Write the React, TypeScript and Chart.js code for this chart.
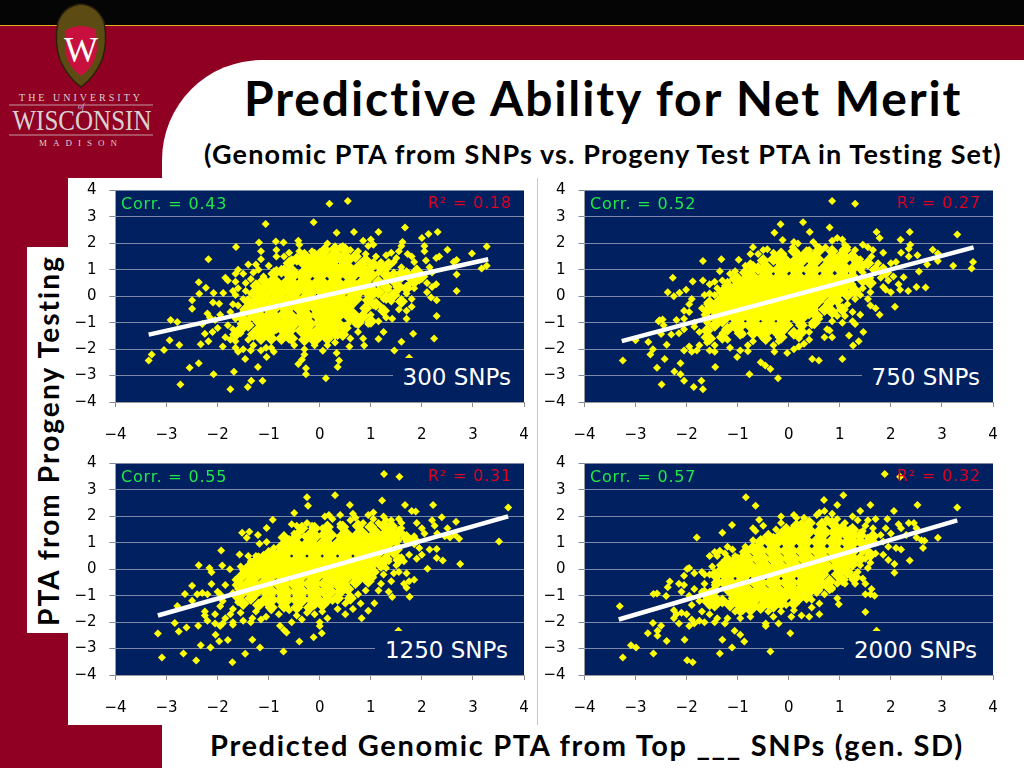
import React, { useEffect, useRef } from "react";
import { Chart, registerables } from "chart.js";

Chart.register(...registerables);

const axisTicks = [-4, -3, -2, -1, 0, 1, 2, 3, 4];

// dense middle of each cloud, drawn with bigger diamonds
const core300 = [
  [0, 1.45], [0.3, 1.5], [0.5, 1.4], [-0.25, 1.25], [-0.1, 1.1], [0.2, 1.15], [0.5, 1.1], [0.8, 1.05],
  [-0.55, 0.85], [-0.3, 0.8], [0, 0.85], [0.3, 0.8], [0.6, 0.8], [0.95, 0.8],
  [-0.9, 0.5], [-0.6, 0.5], [-0.3, 0.5], [0, 0.5], [0.3, 0.5], [0.6, 0.45], [0.85, 0.45],
  [-1.05, 0.2], [-0.8, 0.15], [-0.5, 0.2], [-0.2, 0.2], [0.1, 0.15], [0.4, 0.2], [0.7, 0.15], [1.0, 0.15],
  [-1.15, -0.1], [-0.85, -0.15], [-0.55, -0.1], [-0.25, -0.1], [0.05, -0.15], [0.35, -0.1], [0.65, -0.1],
  [-1.2, -0.4], [-0.95, -0.45], [-0.65, -0.4], [-0.35, -0.45], [-0.05, -0.4], [0.25, -0.45], [0.5, -0.4],
  [-1.25, -0.7], [-0.95, -0.75], [-0.65, -0.7], [-0.3, -0.75], [0, -0.7], [0.3, -0.75], [0.6, -0.7],
  [-1.1, -1.0], [-0.85, -1.05], [-0.55, -1.0], [-0.25, -1.05], [0.05, -1.0], [0.3, -1.05],
  [-1.0, -1.3], [-0.65, -1.3], [-0.3, -1.3], [0, -1.35], [0.2, -1.25], [-0.1, -1.55],
];
const mid300 = [
  [-0.6, 1.25], [-0.45, 1.4], [-0.3, 1.55], [-0.1, 1.55], [0.1, 1.75], [0.3, 1.8], [0.5, 1.75], [0.7, 1.5], [0.9, 1.35], [1.05, 1.2], [1.2, 1.1], [1.35, 1.2],
  [1.15, 0.55], [1.3, 0.8], [1.3, 0.35], [1.45, 0.65], [1.6, 0.85], [1.75, 0.75], [1.9, 0.95], [1.55, 0.35], [1.7, 0.3], [1.15, 0.15], [1.3, -0.05], [0.95, -0.15], [1.1, -0.3], [1.25, -0.55],
  [0.9, -0.45], [0.85, -0.75], [1.0, -0.95], [0.75, -1.0], [1.45, 0.05], [1.6, -0.2], [2.0, 0.75], [1.85, 0.55],
  [0.5, -1.2], [0.45, -1.45], [0.3, -1.4], [0.15, -1.6], [-0.3, -1.65], [-0.55, -1.6], [-0.75, -1.6], [-0.95, -1.6], [-1.15, -1.6], [-1.3, -1.45], [-1.2, -1.25],
  [-1.4, -1.1], [-1.5, -0.85], [-1.45, -0.5], [-1.4, -0.2], [-1.3, 0.1], [-1.25, 0.4], [-1.1, 0.6], [-0.9, 0.85], [-0.75, 0.95], [-1.55, -1.25], [-1.65, -1.45],
];
const points300 = [
  [0.19, 3.5], [0.55, 3.6], [-1.06, 2.73], [-0.12, 2.8], [0.33, 2.4], [0.67, 2.43], [1.15, 2.43], [1.67, 2.6], [2.13, 2.35], [2.31, 2.43],
  [2.0, 2.2], [3.27, 1.88], [2.98, 1.62], [2.5, 1.76], [2.34, 1.5], [2.28, 1.45], [2.68, 1.37], [2.62, 1.3], [3.27, 1.15], [3.17, 1.05], [2.68, 0.82], [2.68, 0.2],
  [2.29, -0.15], [2.29, -0.75], [2.24, -1.6], [1.83, -1.42], [1.6, -1.72], [1.46, -2.05], [1.75, -2.33],
  [-2.18, 1.4], [-1.64, 1.86], [-1.19, 2.03], [-0.86, 2.07], [-0.71, 2.03], [-0.42, 2.1], [-2.37, 0.53], [-2.23, 0.32], [-2.36, 0.09], [-2.08, 0.12], [-1.89, 0.12],
  [-2.5, -0.15], [-2.5, -0.47], [-2.09, -0.24], [-1.97, -0.28], [-2.92, -0.9], [-2.79, -0.97], [-2.94, -1.66], [-3.05, -2.03], [-2.75, -1.84], [-2.33, -1.82], [-2.25, -1.42], [-2.18, -1.7],
  [-3.29, -2.2], [-3.35, -2.43], [-2.55, -2.7], [-2.37, -2.53], [-2.08, -2.95], [-2.73, -3.34], [-1.75, -3.52], [-1.41, -3.43], [-1.34, -3.2], [-1.12, -3.2], [-1.68, -2.86], [-1.21, -2.68],
  [-1.46, -2.37], [-1.04, -2.3], [-0.42, -2.56], [-0.27, -2.72], [-0.27, -2.95], [0.12, -3.1], [0.35, -2.68], [0.38, -2.43], [0.33, -2.15], [0.06, -2.06], [0.58, -1.9], [0.87, -1.86],
  [0.95, 1.9], [0.85, 2.1], [1.0, 2.15], [1.05, 1.95], [0.75, 1.7], [0.9, 1.6], [1.1, 1.5], [1.2, 1.3], [1.15, 0.9], [1.3, 1.55], [1.4, 1.65], [1.45, 1.3], [1.5, 1.45], [1.55, 1.7], [1.6, 1.9], [1.62, 2.05],
  [1.72, 1.6], [1.8, 1.5], [1.85, 1.3], [1.3, 1.0], [1.45, 0.9], [1.6, 1.1], [1.7, 0.95], [1.85, 0.8], [1.9, 1.05], [2.05, 1.9], [2.05, 1.7], [2.08, 1.35], [2.15, 1.1], [2.2, 0.9], [1.95, 0.6], [2.1, 0.5],
  [2.2, 0.35], [2.28, 0.45], [2.1, 0.15], [2.18, -0.05], [1.3, 0.6], [1.45, 0.5], [1.6, 0.65], [1.75, 0.45], [1.85, 0.3], [1.35, 0.25], [1.5, 0.15], [1.7, 0.1], [1.8, -0.1], [1.25, -0.1], [1.4, -0.2], [1.55, -0.5],
  [1.7, -0.55], [1.8, -0.4], [1.7, -0.85], [1.2, -0.4], [1.05, -0.35], [1.0, -0.7], [1.15, -0.95], [0.95, -1.05], [1.3, -0.8], [1.42, -0.85], [1.25, -1.35], [1.15, -1.62], [0.85, -1.6], [0.75, -1.35], [0.6, -1.6],
  [0.55, -1.05], [0.7, -1.05], [0.3, -1.75], [0.35, -1.5], [0.45, -1.3], [0.15, -1.85], [-0.1, -1.85], [-0.3, -2.0], [-0.3, -2.2], [-0.35, -2.4], [-0.5, -1.85], [-0.6, -1.65],
  [-0.9, -2.1], [-0.95, -1.95], [-1.05, -1.95], [-1.15, -2.05], [-1.3, -1.85], [-1.35, -2.05], [-1.4, -1.65], [-1.5, -2.0], [-1.6, -2.1], [-1.65, -1.95], [-1.75, -1.65], [-1.65, -1.7], [-1.85, -1.55], [-1.9, -1.9],
  [-1.55, -1.4], [-1.7, -1.25], [-1.8, -1.1], [-2.0, -1.2], [-2.1, -1.35], [-1.55, -1.05], [-1.65, -0.85], [-1.75, -0.6], [-1.5, -0.6], [-1.6, -0.35], [-1.4, -0.9], [-1.4, -0.3], [-1.7, -0.3], [-1.5, -0.1],
  [-1.65, 0.05], [-1.7, 0.2], [-1.45, 0.2], [-1.6, 0.3], [-1.45, 0.5], [-1.65, 0.55], [-1.8, 0.6], [-1.85, 0.7], [-1.65, 0.85], [-1.6, 1.0], [-1.5, 0.85], [-1.3, 0.9], [-1.35, 0.65], [-1.1, 0.75], [-1.2, 1.0],
  [-1.0, 1.15], [-0.85, 1.0], [-0.7, 1.05], [-1.4, 1.2], [-1.25, 1.2], [-1.15, 1.4], [-1.15, 1.7], [-0.85, 1.5], [-0.85, 1.75], [-0.7, 1.5], [-0.6, 1.65], [-0.55, 1.4], [-0.4, 1.95], [-0.4, 1.7], [-0.3, 1.5],
  [-0.15, 1.7], [0.1, 1.65], [0.15, 2.0], [0.4, 1.85], [0.45, 1.9], [0.6, 1.75], [-2.2, -0.65], [-2.15, -0.8], [-2.05, -0.9], [-2.3, -1.05], [-1.95, -0.7],
];
const line300 = [[-3.35, -1.45], [3.3, 1.4]];

const core750 = [
  [-0.1, 1.3], [0.2, 1.35], [0.5, 1.4], [0.85, 1.35], [1.05, 1.45],
  [-0.45, 1.0], [-0.15, 1.0], [0.15, 1.05], [0.45, 1.0], [0.75, 1.05], [1.05, 1.05],
  [-0.75, 0.7], [-0.45, 0.7], [-0.15, 0.7], [0.15, 0.7], [0.45, 0.7], [0.75, 0.7], [1.05, 0.7],
  [-0.95, 0.4], [-0.65, 0.4], [-0.35, 0.4], [-0.05, 0.4], [0.25, 0.4], [0.55, 0.4], [0.85, 0.4],
  [-1.1, 0.1], [-0.85, 0.1], [-0.55, 0.1], [-0.25, 0.1], [0.05, 0.1], [0.35, 0.1], [0.65, 0.1], [0.9, 0.1],
  [-1.3, -0.2], [-1.0, -0.2], [-0.7, -0.2], [-0.4, -0.2], [-0.1, -0.2], [0.2, -0.2], [0.5, -0.2],
  [-1.4, -0.5], [-1.1, -0.5], [-0.8, -0.5], [-0.5, -0.5], [-0.2, -0.5], [0.1, -0.5], [0.4, -0.5],
  [-1.3, -0.8], [-1.0, -0.8], [-0.7, -0.8], [-0.4, -0.8], [-0.1, -0.8], [0.2, -0.8],
  [-1.0, -1.1], [-0.7, -1.1], [-0.4, -1.1], [-0.1, -1.1], [-0.5, -1.35], [-0.2, -1.3],
];
const mid750 = [
  [-0.7, 1.1], [-0.5, 1.35], [-0.3, 1.4], [-0.15, 1.6], [0.1, 1.7], [0.35, 1.65], [0.6, 1.75], [0.85, 1.7], [1.1, 1.75], [1.25, 1.5], [1.35, 1.3],
  [1.25, 1.05], [1.4, 1.1], [1.55, 1.25], [1.7, 1.0], [1.25, 0.75], [1.45, 0.6], [1.2, 0.45], [1.05, 0.3], [1.15, 0.05], [1.3, 0.2], [0.95, -0.15], [0.8, -0.25], [0.7, -0.5], [0.85, -0.6], [1.05, -0.5],
  [0.55, -0.75], [0.5, -1.0], [0.25, -1.1], [0.25, -1.35], [0.1, -1.4], [1.9, 0.9], [1.6, 0.5],
  [-0.15, -1.55], [-0.45, -1.6], [-0.7, -1.4], [-0.95, -1.4], [-1.2, -1.25], [-1.45, -1.1], [-1.6, -1.3], [-1.3, -1.55], [-1.55, -1.6],
  [-1.6, -0.85], [-1.6, -0.55], [-1.55, -0.25], [-1.3, 0.15], [-1.2, 0.4], [-1.05, 0.65], [-0.85, 0.9], [-0.6, 1.05],
];
const points750 = [
  [0.85, 3.6], [1.3, 3.5], [-0.16, 2.72], [0.28, 2.8], [-0.28, 2.4], [0.41, 2.43], [0.8, 2.6], [-0.12, 2.13], [1.72, 2.43], [1.78, 2.2], [2.19, 2.14], [2.37, 2.43], [3.3, 2.34],
  [2.82, 1.76], [2.92, 1.62], [2.92, 1.33], [2.71, 1.2], [3.22, 1.15], [3.61, 1.3], [3.58, 1.05], [2.52, 1.55], [2.55, 0.94], [2.25, 0.72], [2.5, 0.35], [2.68, 0.33], [2.34, 0.2],
  [2.08, -0.4], [1.78, -0.7], [1.46, -1.35], [1.37, -1.7], [1.26, -1.86], [1.18, -1.48], [1.05, -2.37], [0.46, -2.37], [0.59, -2.43], [-0.21, -3.1], [-0.36, -2.75], [-0.46, -2.62], [-0.55, -2.5],
  [-0.77, -2.95], [-0.03, -2.15], [-1.01, -2.3], [-1.44, -2.68], [-1.68, -3.52], [-1.71, -3.2], [-1.86, -3.43], [-2.05, -3.2], [-2.12, -2.95], [-2.24, -2.85], [-2.49, -3.34], [-2.58, -2.7], [-2.43, -2.37], [-2.12, -2.53],
  [-3.25, -2.43], [-2.71, -2.2], [-2.66, -2.0], [-2.75, -1.73], [-3.0, -1.66], [-2.39, -1.83], [-2.5, -1.43], [-2.53, -0.91], [-2.47, -0.88], [-2.27, 0.7], [-2.37, 0.15], [-2.25, 0], [-2.14, 0.13], [-2.01, 0.25], [-1.88, 0.56],
  [-1.68, 1.33], [-1.68, 0.6], [-1.32, 1.4], [-0.98, 1.38], [-0.7, 1.85], [-0.75, 1.6], [-0.6, 1.6], [-0.5, 1.75], [-0.42, 1.78], [-0.3, 1.65], [-0.2, 1.55], [0.1, 2.05], [0.18, 2.0], [0.08, 1.85], [0.48, 2.05], [0.55, 1.9],
  [0.4, 1.75], [0.72, 1.85], [0.85, 2.1], [0.95, 2.2], [1.05, 2.15], [1.1, 1.95], [1.15, 1.85], [0.85, 1.75], [1.3, 1.75], [1.45, 1.95], [1.55, 1.85], [1.65, 1.75], [1.62, 1.5], [1.85, 1.65], [1.75, 1.25], [1.4, 1.4], [1.3, 1.2],
  [1.5, 1.2], [1.25, 0.9], [1.45, 0.9], [1.65, 1.0], [1.85, 1.1], [2.0, 1.25], [2.1, 1.3], [2.2, 1.65], [2.35, 1.8], [2.38, 1.95], [2.35, 1.5], [1.4, 0.65], [1.6, 0.7], [1.8, 0.7], [1.95, 0.6], [2.05, 0.75], [2.15, 0.45], [2.18, 0.25],
  [2.0, 0.15], [1.9, 0.25], [1.85, 0.35], [1.25, 0.4], [1.45, 0.3], [1.6, 0.15], [1.4, 0.05], [1.3, -0.1], [1.55, -0.1], [1.6, -0.35], [1.7, -0.45], [1.15, -0.3], [1.0, -0.4], [1.25, -0.6], [1.4, -0.7], [1.1, -0.75], [0.95, -0.75],
  [1.05, -1.0], [1.25, -0.95], [1.3, -1.05], [0.85, -0.95], [0.75, -1.25], [0.7, -1.55], [0.85, -1.55], [0.8, -1.3], [0.6, -0.85], [0.45, -1.1], [0.4, -1.35], [0.4, -1.65], [0.3, -1.8], [0.2, -1.9], [0.1, -2.0], [0.2, -1.6], [-0.2, -1.7],
  [-0.3, -1.85], [-0.28, -2.1], [-0.5, -1.55], [-0.7, -1.7], [-0.8, -1.85], [-0.8, -2.08], [-0.9, -1.45], [-0.95, -2.05], [-1.15, -1.95], [-1.2, -1.65], [-1.3, -1.4], [-1.45, -1.85], [-1.45, -2.1], [-1.55, -2.05], [-1.6, -1.75],
  [-1.65, -1.55], [-1.75, -1.85], [-1.8, -2.05], [-1.9, -2.1], [-1.95, -1.9], [-2.05, -2.05], [-1.75, -1.35], [-1.85, -1.15], [-1.6, -1.0], [-1.5, -0.8], [-1.65, -0.7], [-1.85, -1.0], [-2.05, -1.25], [-2.15, -1.4], [-2.2, -0.9], [-2.05, -0.85],
  [-2.05, -0.55], [-1.95, -0.6], [-1.95, -0.3], [-1.9, -0.1], [-1.7, -0.45], [-1.6, -0.3], [-1.65, 0.05], [-1.55, 0.1], [-1.45, 0.05], [-1.4, 0.3], [-1.55, 0.45], [-1.45, 0.55], [-1.3, 0.6], [-1.35, 0.95], [-1.15, 0.85], [-1.05, 0.95], [-1.0, 0.75],
  [-0.85, 1.15], [-0.75, 1.25], [-0.65, 1.05], [-1.2, 0.55], [-0.5, 1.3], [-0.3, 1.35], [-2.3, -1.45], [-2.55, -0.95], [-2.45, -1.1],
];
const line750 = [[-3.27, -1.7], [3.62, 1.85]];

const core1250 = [
  [-0.15, 1.25], [0.15, 1.3], [0.5, 1.25], [0.8, 1.3], [1.1, 1.25], [1.35, 1.35],
  [-0.5, 0.95], [-0.2, 0.95], [0.1, 0.95], [0.4, 0.95], [0.7, 0.95], [1.0, 0.95], [1.3, 1.0],
  [-0.7, 0.65], [-0.4, 0.65], [-0.1, 0.65], [0.2, 0.65], [0.5, 0.65], [0.8, 0.65], [1.1, 0.65],
  [-1.0, 0.35], [-0.7, 0.35], [-0.4, 0.35], [-0.1, 0.35], [0.2, 0.35], [0.5, 0.35], [0.8, 0.35], [1.05, 0.35],
  [-1.2, 0.05], [-0.9, 0.05], [-0.6, 0.05], [-0.3, 0.05], [0, 0.05], [0.3, 0.05], [0.6, 0.05], [0.9, 0.05],
  [-1.3, -0.25], [-1.0, -0.25], [-0.7, -0.25], [-0.4, -0.25], [-0.1, -0.25], [0.2, -0.25], [0.5, -0.25], [0.75, -0.25],
  [-1.35, -0.55], [-1.05, -0.55], [-0.75, -0.55], [-0.45, -0.55], [-0.15, -0.55], [0.15, -0.55], [0.4, -0.55],
  [-1.3, -0.85], [-1.0, -0.85], [-0.7, -0.85], [-0.4, -0.85], [-0.1, -0.85], [0.15, -0.85],
  [-1.0, -1.15], [-0.7, -1.15], [-0.4, -1.15], [-0.1, -1.15],
];
const mid1250 = [
  [-0.7, 1.2], [-0.45, 1.25], [-0.35, 1.55], [-0.1, 1.55], [0.15, 1.6], [0.45, 1.6], [0.75, 1.65], [1.0, 1.6], [1.25, 1.65], [1.4, 1.65], [1.55, 1.4],
  [1.5, 1.1], [1.7, 1.2], [1.85, 1.1], [1.35, 0.7], [1.5, 0.75], [1.3, 0.4], [1.2, 0.15], [1.05, -0.1], [0.9, -0.25], [0.95, -0.45], [0.7, -0.5], [0.55, -0.75], [0.4, -0.85], [0.35, -1.1], [0.15, -1.15], [0.05, -1.35], [0.6, -1.1], [1.55, 0.35],
  [-0.2, -1.45], [-0.45, -1.45], [-0.7, -1.4], [-0.95, -1.45], [-1.2, -1.35], [-1.35, -1.1], [-1.5, -1.3], [-1.6, -1.05], [-1.5, -0.85],
  [-1.6, -0.6], [-1.55, -0.3], [-1.45, -0.05], [-1.3, 0.2], [-1.2, 0.4], [-1.0, 0.6], [-0.9, 0.55], [-0.75, 0.85], [-0.6, 1.05],
];
const points1250 = [
  [1.26, 3.6], [1.56, 3.5], [-0.25, 2.72], [0.3, 2.8], [-0.23, 2.4], [0.59, 2.43], [1.22, 2.6], [-0.5, 2.13], [1.67, 2.43], [1.8, 2.2], [1.88, 2.18], [2.22, 2.43], [3.69, 2.34], [2.67, 1.8], [2.39, 1.97], [2.73, 1.15], [3.51, 1.05],
  [2.29, 0.77], [2.41, 0.33], [2.29, 0.43], [2.75, 0.2], [2.11, 0.02], [1.76, -1.04], [1.54, -2.33], [0.82, -1.85], [0.95, -1.57], [1.07, -1.29], [0.04, -2.42], [-0.12, -2.57], [-0.4, -2.73], [-0.71, -3.11], [-0.65, -2.39], [-0.78, -2.14],
  [-1.17, -2.96], [-1.32, -2.67], [-1.46, -3.2], [-1.71, -3.52], [-1.8, -2.68], [-1.97, -2.72], [-2.04, -2.48], [-2.14, -2.96], [-2.33, -2.87], [-2.42, -3.45], [-2.67, -3.19], [-3.09, -3.34], [-3.17, -2.43], [-2.84, -2.03],
  [-2.76, -2.35], [-2.61, -2.2], [-2.38, -2.14], [-2.79, -1.39], [-2.64, -0.94], [-2.5, -0.62], [-2.5, -1.19], [-2.37, 0.15], [-2.16, 0.05], [-2.12, -0.11], [-2.12, -0.56], [-1.91, 0.14], [-1.93, 0.71], [-1.76, 0], [-1.57, 0.56],
  [-1.52, 1.38], [-1.43, 1.19], [-1.38, 1.42], [-1.21, 1.3], [-1.18, 0.96], [-1.04, 1.03], [-1.04, 1.56], [-0.92, 1.87], [-0.55, 1.7], [-0.45, 1.65], [-0.4, 1.45], [-0.6, 1.1], [-0.25, 1.75], [-0.15, 1.65], [0.05, 1.55], [0.1, 2.0], [0.18, 2.05],
  [0.25, 1.9], [0.4, 2.05], [0.4, 1.7], [0.6, 1.85], [0.65, 2.1], [0.7, 1.95], [0.85, 1.75], [0.95, 2.05], [1.05, 1.9], [1.05, 2.15], [1.15, 1.75], [1.25, 2.0], [1.3, 1.85], [1.4, 1.85], [1.45, 1.6], [1.55, 1.9], [1.6, 1.75], [1.6, 1.55],
  [1.65, 1.3], [1.9, 1.75], [2.0, 1.55], [2.05, 1.35], [1.85, 1.25], [2.2, 1.85], [2.25, 1.65], [2.3, 1.35], [2.45, 1.25], [2.5, 1.55], [2.55, 1.2], [2.65, 1.3], [1.55, 0.85], [1.7, 1.05], [1.85, 0.95], [1.95, 0.8], [2.15, 0.75], [2.0, 0.55],
  [1.9, 0.4], [1.45, 0.55], [1.6, 0.45], [1.75, 0.55], [1.35, 0.3], [1.5, 0.15], [1.65, 0.3], [1.3, 0.05], [1.45, -0.15], [1.55, -0.1], [1.7, -0.15], [1.85, -0.4], [1.75, -0.45], [1.65, -0.55], [1.7, -0.7], [1.25, -0.2], [1.4, -0.45],
  [1.2, -0.55], [1.05, -0.3], [0.95, -0.5], [1.15, -0.8], [1.35, -0.85], [1.42, -1.05], [0.9, -0.8], [0.75, -0.95], [0.6, -1.0], [0.8, -1.3], [0.65, -1.5], [0.5, -1.3], [0.5, -1.7], [0.35, -1.5], [0.25, -1.2], [0.15, -1.85], [0.05, -1.6],
  [0.0, -2.0], [0.0, -2.15], [-0.1, -1.7], [-0.25, -1.65], [-0.35, -1.9], [-0.45, -1.75], [-0.55, -2.0], [-0.6, -1.55], [-0.7, -2.3], [-0.8, -1.7], [-0.95, -1.55], [-1.05, -1.8], [-1.15, -1.9], [-1.25, -1.6], [-1.32, -1.85], [-1.35, -2.0],
  [-1.5, -1.95], [-1.55, -1.65], [-1.7, -2.0], [-1.7, -2.1], [-1.75, -1.7], [-1.85, -1.85], [-1.9, -2.05], [-1.95, -2.15], [-2.05, -2.05], [-2.05, -1.7], [-2.2, -1.95], [-2.25, -1.75], [-2.25, -1.6], [-1.6, -1.25], [-1.7, -1.5], [-1.95, -1.4],
  [-1.9, -1.2], [-1.95, -0.95], [-1.85, -0.6], [-1.7, -0.9], [-1.6, -0.75], [-1.55, -0.55], [-1.65, -0.4], [-2.0, -0.85], [-2.2, -0.95], [-2.3, -0.9], [-2.4, -0.95], [-1.45, -0.1], [-1.55, 0.1], [-1.35, 0.3], [-1.4, 0.15], [-1.4, 0.5], [-1.25, 0.5],
  [-1.1, 0.55], [-0.95, 0.65], [-0.9, 0.8], [-0.7, 0.95], [-0.3, 1.25], [-0.5, 1.35],
];
const line1250 = [[-3.17, -1.75], [3.69, 2.0]];

const core2000 = [
  [0.1, 1.35], [0.35, 1.45], [0.65, 1.4], [0.95, 1.4], [1.2, 1.3],
  [-0.3, 1.0], [0, 1.05], [0.3, 1.05], [0.6, 1.05], [0.9, 1.05], [1.2, 1.0],
  [-0.6, 0.7], [-0.3, 0.7], [0, 0.7], [0.3, 0.7], [0.6, 0.7], [0.9, 0.7], [1.2, 0.7],
  [-0.85, 0.4], [-0.55, 0.4], [-0.25, 0.4], [0.05, 0.4], [0.35, 0.4], [0.65, 0.4], [0.95, 0.4], [1.2, 0.4],
  [-1.1, 0.1], [-0.8, 0.1], [-0.5, 0.1], [-0.2, 0.1], [0.1, 0.1], [0.4, 0.1], [0.7, 0.1], [1.0, 0.1],
  [-1.2, -0.2], [-0.9, -0.2], [-0.6, -0.2], [-0.3, -0.2], [0, -0.2], [0.3, -0.2], [0.6, -0.2],
  [-1.2, -0.5], [-0.9, -0.5], [-0.6, -0.5], [-0.3, -0.5], [0, -0.5], [0.3, -0.5], [0.5, -0.5],
  [-1.1, -0.8], [-0.85, -0.8], [-0.55, -0.8], [-0.25, -0.8], [0.05, -0.8], [0.25, -0.85],
  [-1.0, -1.1], [-0.7, -1.1], [-0.4, -1.15], [-0.15, -1.05],
  [-0.9, -1.35], [-0.75, -1.4],
];
const mid2000 = [
  [-0.55, 1.05], [-0.4, 1.25], [-0.15, 1.3], [-0.05, 1.5], [0.15, 1.65], [0.4, 1.75], [0.65, 1.7], [0.85, 1.75], [1.05, 1.55], [1.25, 1.5], [1.4, 1.3],
  [1.4, 1.05], [1.55, 1.0], [1.45, 0.75], [1.6, 0.55], [1.4, 0.4], [1.25, 0.2], [1.15, -0.1], [0.95, -0.2], [1.05, -0.4], [0.8, -0.45], [0.65, -0.55], [0.55, -0.8], [0.4, -0.85], [0.35, -1.05], [0.2, -1.1], [0.1, -1.3], [0.8, -0.7], [1.3, -0.3], [1.65, 1.25],
  [-0.15, -1.3], [-0.3, -1.4], [-0.55, -1.45], [-0.95, -1.55], [-1.15, -1.35], [-1.3, -1.2], [-1.45, -1.35], [-1.5, -1.1], [-1.6, -1.2],
  [-1.45, -0.8], [-1.4, -0.5], [-1.45, -0.2], [-1.3, 0.15], [-1.2, 0.35], [-1.0, 0.35], [-0.85, 0.65], [-0.7, 0.8], [-1.65, -0.9],
];
const points2000 = [
  [1.88, 3.6], [2.18, 3.5], [-0.84, 2.72], [1.07, 2.8], [-0.65, 2.4], [0.69, 2.62], [0.95, 2.43], [1.6, 2.43], [2.52, 2.43], [3.3, 2.34], [2.06, 2.2], [1.93, 1.9], [-0.58, 1.87], [-1.11, 1.67], [-1.8, 1.2], [-1.3, 1.38], [2.92, 1.19],
  [2.63, 0.8], [2.66, 1.08], [2.37, 0.33], [2.07, 0.2], [2.07, -0.13], [1.5, -1.62], [0.98, -1.32], [1.72, -2.33], [0.03, -2.42], [-0.36, -3.11], [-0.87, -2.73], [-0.95, -2.48], [-1.06, -2.33], [-1.11, -2.96], [-1.3, -2.67], [-1.35, -3.19],
  [-1.88, -3.52], [-1.99, -3.44], [-2.04, -2.67], [-2.39, -2.71], [-2.65, -3.19], [-2.99, -2.96], [-3.09, -2.87], [-3.25, -3.34], [-2.76, -2.42], [-2.57, -2.52], [-2.57, -2.33], [-2.5, -2.14], [-2.66, -2.03], [-3.31, -1.4],
  [-2.65, -0.94], [-2.58, -0.92], [-2.4, -1.01], [-2.37, -0.68], [-2.33, -0.46], [-1.99, 0.01], [-1.95, 0.05], [-2.05, -0.25], [-2.15, -0.55], [-2.05, -0.6], [-1.85, -0.15], [-1.7, -0.1], [-1.65, -0.2], [-1.55, 0.5], [-1.4, 0.5], [-1.35, 0.7], [-1.45, 0.65],
  [-1.2, 0.85], [-1.25, 0.6], [-1.1, 0.75], [-1.05, 0.5], [-0.85, 0.85], [-0.7, 1.1], [-0.65, 1.45], [-0.7, 1.55], [-0.5, 1.65], [-0.4, 1.25], [-0.25, 1.5], [-0.15, 1.75], [-0.15, 2.0], [0.1, 2.05], [0.15, 1.95], [0.3, 1.95], [0.25, 1.75], [0.45, 1.75],
  [0.55, 2.05], [0.6, 2.15], [0.75, 1.9], [0.7, 2.2], [0.85, 2.1], [0.95, 1.9], [1.1, 1.75], [1.25, 2.0], [1.35, 1.85], [1.4, 2.2], [1.5, 1.65], [1.55, 1.85], [1.7, 1.9], [1.45, 1.45], [1.65, 1.55], [1.9, 1.55], [1.8, 1.3], [1.55, 1.2], [1.45, 1.0], [1.7, 1.0],
  [1.85, 1.05], [2.0, 1.35], [2.15, 1.7], [2.2, 1.55], [2.35, 1.75], [2.45, 1.75], [2.5, 1.55], [2.3, 1.3], [2.5, 1.2], [2.6, 1.1], [1.95, 0.85], [2.1, 0.8], [2.2, 0.75], [1.55, 0.7], [1.7, 0.6], [1.85, 0.55], [1.95, 0.35], [1.5, 0.4], [1.6, 0.25],
  [1.4, 0.15], [1.55, 0.05], [1.35, -0.1], [1.2, -0.25], [1.45, -0.35], [1.5, -0.55], [1.3, -0.55], [1.1, -0.55], [1.25, -0.4], [1.5, -0.95], [1.6, -0.95], [1.68, -1.0], [1.62, -0.75], [0.95, -0.55], [0.85, -0.75], [0.95, -1.1], [0.7, -0.95], [0.6, -1.3],
  [0.45, -1.15], [0.45, -1.45], [0.6, -1.7], [0.4, -1.8], [0.25, -1.75], [0.1, -1.55], [0.05, -1.8], [-0.05, -1.35], [-0.15, -1.6], [-0.2, -2.05], [-0.3, -1.8], [-0.4, -1.6], [-0.45, -2.05], [-0.45, -2.15], [-0.55, -1.5], [-0.75, -1.8],
  [-0.95, -1.85], [-1.05, -1.6], [-1.2, -1.85], [-1.25, -2.05], [-1.4, -1.85], [-1.45, -2.0], [-1.55, -1.7], [-1.65, -2.0], [-1.7, -1.6], [-1.75, -1.95], [-1.85, -2.05], [-1.9, -1.9], [-1.95, -2.15], [-2.1, -1.65], [-2.15, -2.05], [-2.2, -1.7], [-2.25, -1.55],
  [-2.25, -1.85], [-2.0, -1.7], [-1.9, -1.35], [-1.75, -1.2], [-1.55, -1.4], [-1.4, -1.1], [-1.55, -0.85], [-1.65, -0.55], [-1.7, -0.85], [-1.85, -0.75], [-1.95, -1.0], [-2.1, -0.85], [-1.45, -0.6], [-1.4, -0.3], [-1.55, -0.2], [-1.35, 0.0], [-1.5, 0.1],
];
const line2000 = [[-3.33, -1.9], [3.3, 1.85]];

const panels = [
  { left: 70, top: 178, core: core300, mid: mid300, points: points300, line: line300, corr: "Corr. = 0.43", r2: "R² = 0.18", snps: "300 SNPs", boxLeft: 323, snpsRight: 13 },
  { left: 539, top: 178, core: core750, mid: mid750, points: points750, line: line750, corr: "Corr. = 0.52", r2: "R² = 0.27", snps: "750 SNPs", boxLeft: 323, snpsRight: 13 },
  { left: 70, top: 451, core: core1250, mid: mid1250, points: points1250, line: line1250, corr: "Corr. = 0.55", r2: "R² = 0.31", snps: "1250 SNPs", boxLeft: 305, snpsRight: 16 },
  { left: 539, top: 451, core: core2000, mid: mid2000, points: points2000, line: line2000, corr: "Corr. = 0.57", r2: "R² = 0.32", snps: "2000 SNPs", boxLeft: 305, snpsRight: 16 },
];

const toXY = (list: number[][]) => list.map(([x, y]) => ({ x, y }));

const navyBackground = {
  id: "navyBackground",
  beforeDraw(chart: Chart) {
    const { ctx, chartArea } = chart;
    ctx.save();
    ctx.fillStyle = "#00205f";
    ctx.fillRect(chartArea.left, chartArea.top, chartArea.width, chartArea.height);
    ctx.restore();
  },
};

function Panel({ panel }: { panel: (typeof panels)[number] }) {
  const ref = useRef<HTMLCanvasElement | null>(null);

  useEffect(() => {
    if (!ref.current) return;
    const tickFont = { family: "'DejaVu Sans'", size: 15 };
    const diamonds = (list: number[][], radius: number, order: number) => ({
      data: toXY(list),
      backgroundColor: "#ffff00",
      borderWidth: 0,
      pointStyle: "rectRot",
      pointRadius: radius,
      order,
    });
    const chart = new Chart(ref.current, {
      type: "scatter",
      data: {
        datasets: [
          {
            data: toXY(panel.line),
            showLine: true,
            borderColor: "#ffffff",
            borderWidth: 4.5,
            pointRadius: 0,
            order: 0,
          },
          diamonds(panel.points, 4, 1),
          diamonds(panel.mid, 6.5, 2),
          diamonds(panel.core, 10, 3),
        ],
      },
      plugins: [navyBackground],
      options: {
        animation: false,
        responsive: false,
        layout: { padding: { top: 12.5, right: 13, left: 0, bottom: 0 } },
        plugins: { legend: { display: false }, tooltip: { enabled: false } },
        scales: {
          x: {
            min: -4,
            max: 4,
            afterBuildTicks: (axis) => {
              axis.ticks = axisTicks.map((value) => ({ value }));
            },
            afterFit: (axis: any) => {
              axis.height = 46;
              // tick padding would otherwise push the plot area in from the right
              axis.paddingLeft = 0;
              axis.paddingRight = 0;
            },
            border: { color: "#9a9a9a" },
            grid: { drawOnChartArea: false, color: "#8a8a8a", tickLength: 5 },
            ticks: {
              color: "#000000",
              font: tickFont,
              padding: 19,
              maxRotation: 0,
              callback: (v) => String(v).replace("-", "−"),
            },
          },
          y: {
            min: -4,
            max: 4,
            afterBuildTicks: (axis) => {
              axis.ticks = axisTicks.map((value) => ({ value }));
            },
            afterFit: (axis: any) => {
              axis.width = 45.5;
              axis.paddingTop = 0;
              axis.paddingBottom = 0;
            },
            border: { color: "#9a9a9a" },
            grid: { color: "#7d89a6", tickLength: 6 },
            ticks: {
              color: "#000000",
              font: tickFont,
              padding: 13,
              callback: (v) => String(v).replace("-", "−"),
            },
          },
        },
      },
    });
    return () => chart.destroy();
  }, [panel]);

  const textFont = "'DejaVu Sans', sans-serif";
  return (
    <div style={{ position: "absolute", left: panel.left, top: panel.top, width: 467, height: 270 }}>
      <canvas ref={ref} width={467} height={270} style={{ display: "block" }} />
      <div style={{ position: "absolute", left: 51, top: 16, color: "#1fe84a", font: `16px ${textFont}`, letterSpacing: 0.8, whiteSpace: "nowrap" }}>
        {panel.corr}
      </div>
      <div style={{ position: "absolute", right: 25, top: 15, color: "#e00022", font: `16px ${textFont}`, letterSpacing: 0.8, whiteSpace: "nowrap" }}>
        {panel.r2}
      </div>
      <div
        style={{
          position: "absolute",
          left: panel.boxLeft,
          top: 180,
          width: 454 - panel.boxLeft,
          height: 38,
          background: "#00205f",
          color: "#ffffff",
          font: `23px ${textFont}`,
          textAlign: "right",
          lineHeight: "38px",
          paddingRight: panel.snpsRight,
          boxSizing: "border-box",
          whiteSpace: "nowrap",
        }}
      >
        {panel.snps}
      </div>
    </div>
  );
}

function Crest() {
  return (
    <svg width={164} height={160} style={{ position: "absolute", left: 0, top: 0 }}>
      <path d="M81 4 Q64 6 58 22 Q54 42 60 60 Q68 78 81 87 Q94 78 102 60 Q108 42 104 22 Q98 6 81 4 Z" fill="#5c4c14" stroke="#2a2208" strokeWidth={1.5} />
      <path d="M66 30 Q81 22 96 30 L97 50 Q95 66 81 76 Q67 66 65 50 Z" fill="#c8103e" />
      <text x={81} y={62} textAnchor="middle" fontFamily="'Liberation Serif'" fontSize={36} fill="#ffffff">
        W
      </text>
      <g fontFamily="'Liberation Serif'" fill="#d9d2d2" textAnchor="middle">
        <text x={81} y={101} fontSize={10} letterSpacing={3}>THE UNIVERSITY</text>
        <text x={81} y={109} fontSize={8} fontStyle="italic">of</text>
        <text x={82} y={130} fontSize={29} textLength={139} lengthAdjust="spacingAndGlyphs">WISCONSIN</text>
        <text x={81} y={146} fontSize={9} letterSpacing={6}>MADISON</text>
      </g>
      <line x1={9} x2={153} y1={105} y2={105} stroke="#c49aa0" />
      <line x1={9} x2={153} y1={135} y2={135} stroke="#c49aa0" />
    </svg>
  );
}

export default function App() {
  const heading = "Lato, sans-serif";
  return (
    <div style={{ position: "absolute", left: 0, top: 0, width: 1024, height: 768, overflow: "hidden", background: "#8f0022" }}>
      <div style={{ position: "absolute", left: 0, top: 0, width: 1024, height: 25, background: "#050505", borderBottom: "1px solid #e8a828" }} />
      <div style={{ position: "absolute", left: 162, top: 60, width: 862, height: 708, background: "#ffffff", borderTopLeftRadius: 100 }} />
      <Crest />
      <div style={{ position: "absolute", left: 68, top: 178, width: 470, height: 547, background: "#ffffff", borderRight: "1px solid #c8c8c8", boxSizing: "border-box" }} />
      <div style={{ position: "absolute", left: 27, top: 247, width: 41, height: 386, background: "#ffffff" }} />
      <div
        style={{
          position: "absolute",
          left: 30,
          top: 247,
          width: 36,
          height: 386,
          writingMode: "vertical-rl",
          transform: "rotate(180deg)",
          textAlign: "center",
          font: `bold 28px/36px ${heading}`,
          letterSpacing: 2.1,
          color: "#000000",
          whiteSpace: "nowrap",
        }}
      >
        PTA from Progeny Testing
      </div>
      <div style={{ position: "absolute", left: 244, top: 69, font: `bold 48px/58px ${heading}`, letterSpacing: 1.9, color: "#000000", whiteSpace: "nowrap" }}>
        Predictive Ability for Net Merit
      </div>
      <div style={{ position: "absolute", left: 204, top: 138, font: `bold 27px/32px ${heading}`, letterSpacing: 1.14, color: "#000000", whiteSpace: "nowrap" }}>
        (Genomic PTA from SNPs vs. Progeny Test PTA in Testing Set)
      </div>
      <div style={{ position: "absolute", left: 210, top: 728, font: `bold 29px/34px ${heading}`, letterSpacing: 1.67, color: "#000000", whiteSpace: "nowrap" }}>
        Predicted Genomic PTA from Top ___ SNPs (gen. SD)
      </div>
      {panels.map((panel) => (
        <Panel key={panel.snps} panel={panel} />
      ))}
    </div>
  );
}
